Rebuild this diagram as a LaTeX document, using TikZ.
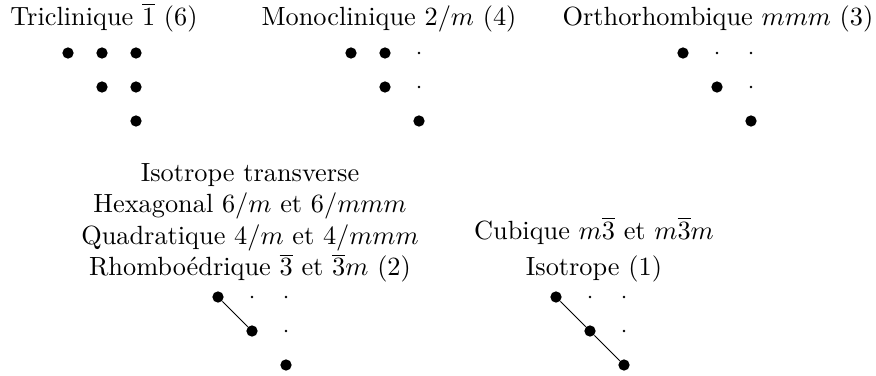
\documentclass[tikz,border=0pt]{standalone}
\tikzset{
  gros/.style={circle,fill=black,inner sep=0pt,minimum size=4.3pt},
  petit/.style={circle,fill=black,inner sep=0pt,minimum size=1.1pt},
  titre/.style={inner sep=0pt,align=center}
}
\begin{document}
\begin{tikzpicture}[x=0.38pt,y=-0.38pt]
\useasboundingbox (0,0) rectangle (876,375);
% titres
\node[titre,anchor=base] (ttri) at (104,25) {Triclinique $\overline{1}$ (6)};
\node[titre,anchor=base] (tmono) at (389,25) {Monoclinique $2/m$ (4)};
\node[titre,anchor=base] (tortho) at (718,25) {Orthorhombique $mmm$ (3)};
\node[titre,anchor=south] (thexa) at (250,283) {Isotrope transverse\\
  Hexagonal $6/m$ et $6/mmm$\\
  Quadratique $4/m$ et $4/mmm$\\
  Rhombo\'edrique $\overline{3}$ et $\overline{3}m$ (2)};
\node[titre,anchor=south] (tcub) at (594,283) {Cubique $m\overline{3}$ et $m\overline{3}m$\\[2pt]
  Isotrope (1)};
% triclinique
\foreach \i/\j/\s in {0/0/gros,0/1/gros,0/2/gros,1/1/gros,1/2/gros,2/2/gros}
  \node[\s] (tri\i\j) at ({68+34*\j},{53+34*\i}) {};
% monoclinique
\foreach \i/\j/\s in {0/0/gros,0/1/gros,0/2/petit,1/1/gros,1/2/petit,2/2/gros}
  \node[\s] (mono\i\j) at ({351+34*\j},{53+34*\i}) {};
% orthorhombique
\foreach \i/\j/\s in {0/0/gros,0/1/petit,0/2/petit,1/1/gros,1/2/petit,2/2/gros}
  \node[\s] (ortho\i\j) at ({683+34*\j},{53+34*\i}) {};
% isotrope transverse
\foreach \i/\j/\s in {0/0/gros,0/1/petit,0/2/petit,1/1/gros,1/2/petit,2/2/gros}
  \node[\s] (hexa\i\j) at ({218+34*\j},{297+34*\i}) {};
\draw (hexa00) -- (hexa11);
% cubique
\foreach \i/\j/\s in {0/0/gros,0/1/petit,0/2/petit,1/1/gros,1/2/petit,2/2/gros}
  \node[\s] (cub\i\j) at ({556+34*\j},{297+34*\i}) {};
\draw (cub00) -- (cub11) -- (cub22);
\end{tikzpicture}
\end{document}
